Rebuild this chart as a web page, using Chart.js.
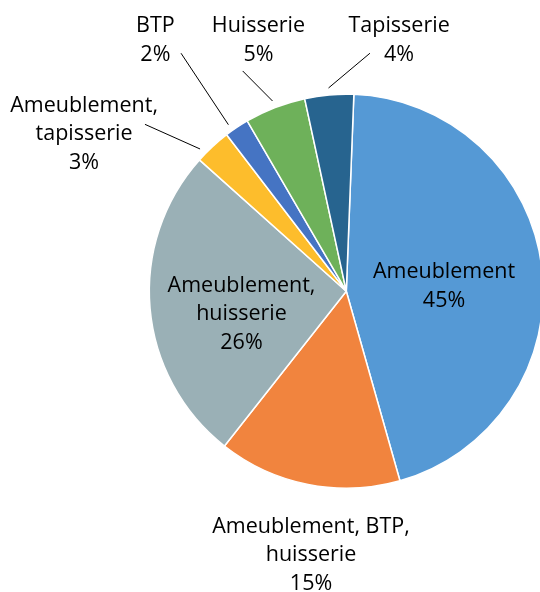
<!DOCTYPE html>
<html>
<head>
<meta charset="utf-8">
<script src="https://cdn.jsdelivr.net/npm/chart.js@4"></script>
<style>
  html, body { margin: 0; padding: 0; background: #ffffff; overflow: hidden; }
  #wrap { width: 560px; height: 592px; }
</style>
</head>
<body>
<div id="wrap"><canvas id="c" width="560" height="592"></canvas></div>
<script>
// ---- data ----
const categories = [
  'Ameublement',
  'Ameublement, BTP, huisserie',
  'Ameublement, huisserie',
  'Ameublement, tapisserie',
  'BTP',
  'Huisserie',
  'Tapisserie'
];
const shares = [45, 15, 26, 3, 2, 5, 4];
const labelLines = [
  ['Ameublement', '45%'],
  ['Ameublement, BTP,', 'huisserie', '15%'],
  ['Ameublement,', 'huisserie', '26%'],
  ['Ameublement,', 'tapisserie', '3%'],
  ['BTP', '2%'],
  ['Huisserie', '5%'],
  ['Tapisserie', '4%']
];
const colors = ['#5599d5', '#f1843e', '#9ab0b6', '#fdbd2c', '#4574c3', '#6eb15a', '#27648f'];

// label placement in units of the pie radius, relative to the centre (first baseline)
const labelPlace = [
  {x: 0.496, y: -0.065},
  {x: -0.179, y: 1.227},
  {x: -0.532, y: 0.004},
  {x: -1.331, y: -0.911, lx: -1.022, ly: -0.847, da: -3},
  {x: -0.969, y: -1.314, lx: -0.839, ly: -1.208, da: -1.5},
  {x: -0.446, y: -1.314, lx: -0.526, ly: -1.118, da: 0},
  {x: 0.268, y: -1.314, lx: 0.120, ly: -1.208, da: 0}
];

const FONT = '21.5px "Open Sans"';
const LINE_H = 28.5;

const labelPlugin = {
  id: 'pieLabels',
  afterDatasetsDraw(chart) {
    const ctx = chart.ctx;
    const meta = chart.getDatasetMeta(0);
    ctx.save();
    meta.data.forEach((arc, i) => {
      const p = arc.getProps(['x', 'y', 'startAngle', 'endAngle', 'outerRadius'], true);
      const R = p.outerRadius;
      const place = labelPlace[i];
      if (place.lx !== undefined) {
        const mid = (p.startAngle + p.endAngle) / 2 + (place.da || 0) * Math.PI / 180;
        const r0 = R + 7;
        ctx.beginPath();
        ctx.moveTo(p.x + Math.cos(mid) * r0, p.y + Math.sin(mid) * r0);
        ctx.lineTo(p.x + place.lx * R, p.y + place.ly * R);
        ctx.strokeStyle = '#000000';
        ctx.lineWidth = 1;
        ctx.stroke();
      }
      ctx.font = FONT;
      ctx.fillStyle = '#000000';
      ctx.textAlign = 'center';
      ctx.textBaseline = 'alphabetic';
      const cx = p.x + place.x * R;
      const cy = p.y + place.y * R;
      labelLines[i].forEach((t, k) => ctx.fillText(t, cx, cy + k * LINE_H));
    });
    ctx.restore();
  }
};

new Chart(document.getElementById('c'), {
  type: 'pie',
  data: {
    labels: categories,
    datasets: [{
      data: shares,
      backgroundColor: colors,
      borderColor: '#ffffff',
      borderWidth: 1.5,
      hoverOffset: 0,
      radius: 197
    }]
  },
  options: {
    responsive: false,
    animation: false,
    rotation: 2.2,
    layout: { padding: { left: 149.3, right: 16.7, top: 94.2, bottom: 103.8 } },
    plugins: {
      legend: { display: false },
      tooltip: { enabled: false }
    }
  },
  plugins: [labelPlugin]
});
</script>
</body>
</html>
